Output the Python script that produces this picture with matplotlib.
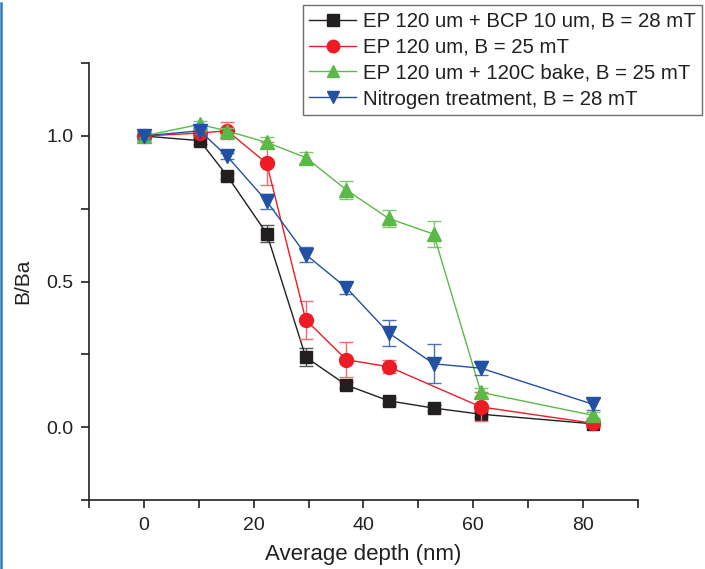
import matplotlib
matplotlib.use('Agg')
import matplotlib.pyplot as plt
from matplotlib.ticker import MultipleLocator
from matplotlib.lines import Line2D

plt.rcParams['font.family'] = ['Liberation Sans', 'DejaVu Sans']

# depth profiles of normalised field B/Ba
x_black = [0, 10.2, 15.2, 22.4, 29.5, 36.9, 44.6, 52.8, 61.4, 81.8]
y_black = [1.0, 0.984, 0.863, 0.665, 0.241, 0.145, 0.091, 0.066, 0.045, 0.012]
e_black = [0.01, 0.01, 0.01, 0.03, 0.03, 0.01, 0.01, 0.01, 0.01, 0.01]

x_red = [0, 10.2, 15.2, 22.4, 29.5, 36.9, 44.6, 61.4, 81.8]
y_red = [1.0, 1.01, 1.018, 0.906, 0.369, 0.232, 0.208, 0.07, 0.014]
e_red = [0.01, 0.01, 0.03, 0.075, 0.065, 0.06, 0.022, 0.05, 0.01]

x_green = [0, 10.2, 15.2, 22.4, 29.5, 36.9, 44.6, 52.8, 61.4, 81.8]
y_green = [1.0, 1.04, 1.017, 0.978, 0.926, 0.815, 0.717, 0.663, 0.12, 0.041]
e_green = [0.01, 0.01, 0.01, 0.02, 0.02, 0.03, 0.03, 0.045, 0.015, 0.01]

x_blue = [0, 10.2, 15.2, 22.4, 29.5, 36.9, 44.6, 52.8, 61.4, 81.8]
y_blue = [1.0, 1.018, 0.93, 0.776, 0.593, 0.479, 0.324, 0.218, 0.203, 0.079]
e_blue = [0.01, 0.01, 0.01, 0.025, 0.025, 0.02, 0.045, 0.067, 0.025, 0.02]

labels = ['EP 120 um + BCP 10 um, B = 28 mT',
          'EP 120 um, B = 25 mT',
          'EP 120 um + 120C bake, B = 25 mT',
          'Nitrogen treatment, B = 28 mT']

series = [
    (x_black, y_black, e_black, '#231f20', '#555555', 's', 9),
    (x_red, y_red, e_red, '#ed1c24', '#f26a72', 'o', 10),
    (x_green, y_green, e_green, '#5ab947', '#7cc96b', '^', 10),
    (x_blue, y_blue, e_blue, '#2250a3', '#4a72b8', 'v', 10),
]

fig = plt.figure(figsize=(7.05, 5.69), dpi=100)
ax = fig.add_axes([0.126, 0.121, 0.779, 0.768])

handles = []
for i, (xs, ys, es, col, ecol, mk, ms) in enumerate(series):
    ax.errorbar(xs, ys, yerr=es, fmt='none', ecolor=ecol, elinewidth=1.0,
                capsize=5, capthick=1.0, zorder=2 + i)
    ax.plot(xs, ys, color=col, lw=1.0, marker=mk, markersize=ms,
            markeredgecolor=col, zorder=3 + i)
    handles.append(Line2D([], [], color=col, lw=1.0, marker=mk,
                          markersize=9, markeredgecolor=col))

ax.set_xlim(-10, 90)
ax.set_ylim(-0.25, 1.25)
ax.xaxis.set_major_locator(MultipleLocator(20))
ax.xaxis.set_minor_locator(MultipleLocator(10))
ax.yaxis.set_major_locator(MultipleLocator(0.5))
ax.yaxis.set_minor_locator(MultipleLocator(0.25))
ax.yaxis.set_major_formatter(plt.FormatStrFormatter('%.1f'))

for side in ('top', 'right'):
    ax.spines[side].set_visible(False)
for side in ('left', 'bottom'):
    ax.spines[side].set_linewidth(1.2)
    ax.spines[side].set_color('#231f20')

ax.tick_params(which='both', direction='out', length=6, width=1.2,
               color='#231f20', labelsize=14, labelcolor='#231f20')
ax.tick_params(axis='x', pad=6)
ax.tick_params(axis='y', pad=5)

ax.set_xlabel('Average depth (nm)', fontsize=16, color='#231f20', labelpad=7)
ax.set_ylabel('B/Ba', fontsize=15, color='#231f20', labelpad=10)

leg = fig.legend(handles, labels, loc='upper right',
                 bbox_to_anchor=(702 / 705, 1 - 5 / 569), borderaxespad=0,
                 fontsize=14.7, handlelength=2.3, handletextpad=0.3,
                 labelspacing=0.34, borderpad=0.33, frameon=True,
                 fancybox=False, framealpha=1)
leg.get_frame().set_edgecolor('#6d6e71')
leg.get_frame().set_linewidth(1.0)
for t in leg.get_texts():
    t.set_color('#231f20')

# blue page edge on the left
fig.add_artist(Line2D([0.002, 0.002], [0, 0.995], transform=fig.transFigure,
                      color='#2f7bc0', lw=1.8))

fig.savefig('out.png', dpi=100)
